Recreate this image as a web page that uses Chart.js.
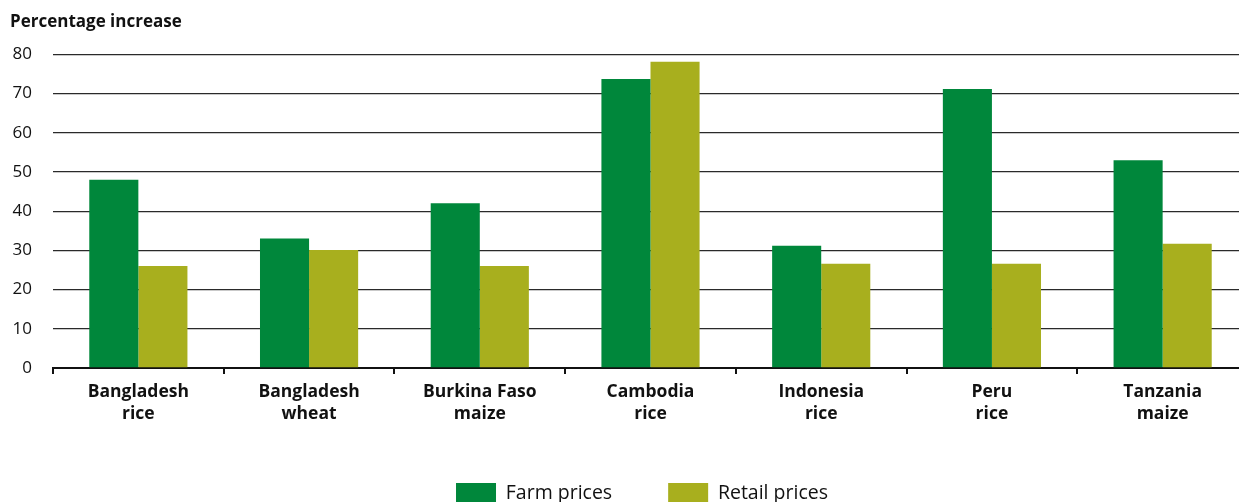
<!DOCTYPE html>
<html>
<head>
<meta charset="utf-8">
<script src="https://cdn.jsdelivr.net/npm/chart.js@4.4.0/dist/chart.umd.min.js"></script>
<style>
  html, body { margin: 0; padding: 0; background: #fff; overflow: hidden; }
  #wrap { position: relative; width: 1248px; height: 518px; }
</style>
</head>
<body>
<div id="wrap"><canvas id="c"></canvas></div>
<script>
const categories = [
  ["Bangladesh", "rice"],
  ["Bangladesh", "wheat"],
  ["Burkina Faso", "maize"],
  ["Cambodia", "rice"],
  ["Indonesia", "rice"],
  ["Peru", "rice"],
  ["Tanzania", "maize"]
];
const farmPrices = [48, 33, 42, 73.7, 31.2, 71.2, 53];
const retailPrices = [26, 30.1, 26, 78.1, 26.6, 26.6, 31.7];
const yTicks = [0, 10, 20, 30, 40, 50, 60, 70, 80];
const yTitle = "Percentage increase";
const seriesNames = ["Farm prices", "Retail prices"];

const FONT = "'Open Sans', 'DejaVu Sans', sans-serif";
Chart.defaults.font.family = FONT;
Chart.defaults.color = "#111";

const legendShift = {
  id: "legendShift",
  afterLayout(chart) {
    const lg = chart.legend;
    if (lg) { lg.left += 13; lg.right += 13; lg.top -= 5; lg.bottom -= 5; }
  }
};

new Chart(document.getElementById("c"), {
  type: "bar",
  data: {
    labels: categories,
    datasets: [
      { label: seriesNames[0], data: farmPrices, backgroundColor: "#00873b", borderWidth: 0 },
      { label: seriesNames[1], data: retailPrices, backgroundColor: "#a8af1e", borderWidth: 0 }
    ]
  },
  plugins: [legendShift],
  options: {
    responsive: true,
    maintainAspectRatio: false,
    animation: false,
    layout: { padding: { left: 10, right: 0, top: 12, bottom: 0 } },
    datasets: { bar: { categoryPercentage: 0.575, barPercentage: 1.0 } },
    plugins: {
      tooltip: { enabled: false },
      title: {
        display: true,
        text: yTitle,
        align: "start",
        font: { size: 17, weight: "bold", family: FONT, lineHeight: 1.2 },
        color: "#111",
        padding: { top: 0, bottom: 22 }
      },
      legend: {
        position: "bottom",
        labels: {
          boxWidth: 40,
          boxHeight: 20,
          padding: 56,
          font: { size: 19.5, family: FONT },
          color: "#111"
        }
      }
    },
    scales: {
      x: {
        grid: {
          offset: true,
          drawOnChartArea: false,
          drawTicks: true,
          tickLength: 6,
          color: "#111",
          lineWidth: 2
        },
        border: { display: true, color: "#111", width: 2 },
        ticks: {
          font: { size: 17.5, weight: "bold", family: FONT, lineHeight: 1.26 },
          color: "#111",
          padding: 7,
          maxRotation: 0
        }
      },
      y: {
        min: 0,
        max: 80,
        afterBuildTicks: (axis) => { axis.ticks = yTicks.map(v => ({ value: v })); },
        afterFit: (axis) => { axis.width = 43; },
        grid: { color: "#2a2a2a", lineWidth: 1.3, drawTicks: false },
        border: { display: false },
        ticks: {
          font: { size: 17, family: FONT },
          color: "#111",
          padding: 21
        }
      }
    }
  }
});
</script>
</body>
</html>
